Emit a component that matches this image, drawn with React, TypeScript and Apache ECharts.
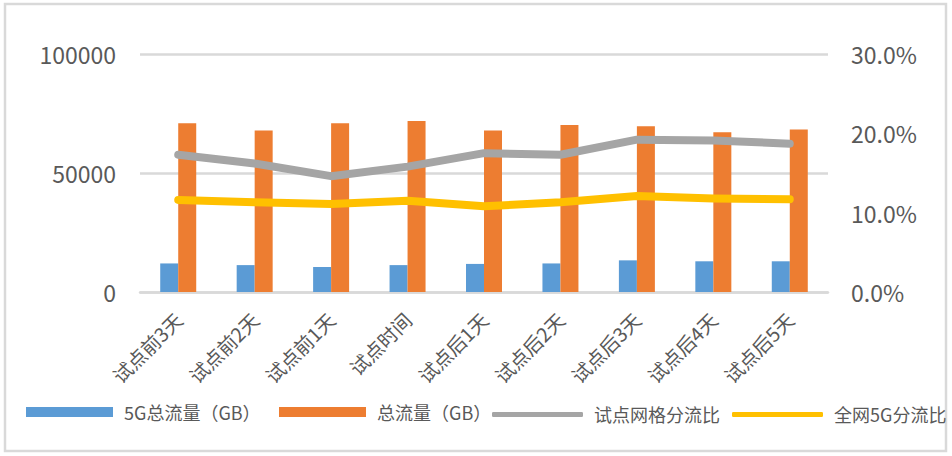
import React, { useEffect, useRef } from "react";
import * as echarts from "echarts";

const categories = ["试点前3天", "试点前2天", "试点前1天", "试点时间", "试点后1天", "试点后2天", "试点后3天", "试点后4天", "试点后5天"];
const traffic5G = [12000, 11300, 10500, 11300, 11800, 12000, 13300, 12900, 12900];
const trafficTotal = [70900, 67900, 70900, 71800, 67900, 70200, 69600, 67100, 68300];
const pilotRatio = [0.173, 0.162, 0.146, 0.158, 0.175, 0.173, 0.192, 0.191, 0.187];
const networkRatio = [0.116, 0.113, 0.111, 0.115, 0.108, 0.113, 0.121, 0.118, 0.117];
const leftTicks = { min: 0, max: 100000, interval: 50000 };
const rightTicks = { min: 0, max: 0.3, interval: 0.1 };

const names = ["5G总流量（GB）", "总流量（GB）", "试点网格分流比", "全网5G分流比"];
const colors = ["#5b9bd5", "#ed7d31", "#a5a5a5", "#ffc000"];
const FONT = "'Noto Sans CJK SC', 'Open Sans', sans-serif";

export default function App() {
  const ref = useRef<HTMLDivElement>(null);
  useEffect(() => {
    if (!ref.current) return;
    const chart = echarts.init(ref.current, null, { renderer: "svg" });
    const legendLefts = [26, 279, 492, 732];
    const legends = names.map((n, i) => ({
      data: [{ name: n, icon: i < 2 ? "rect" : "roundRect" }],
      left: legendLefts[i],
      top: i < 2 ? 403 : 405.5,
      itemWidth: i < 2 ? 87 : 91,
      itemHeight: i < 2 ? 10 : 5,
      padding: 0,
      selectedMode: false,
      textStyle: { fontSize: 18, color: "#595959", fontFamily: FONT, padding: [0, 0, 0, 6] },
    }));
    chart.setOption({
      animation: false,
      backgroundColor: "#ffffff",
      textStyle: { fontFamily: FONT },
      graphic: [
        {
          type: "rect",
          shape: { x: 5, y: 4, width: 941, height: 447 },
          style: { fill: "none", stroke: "#d9d9d9", lineWidth: 2.5 },
          silent: true,
        },
      ],
      legend: legends,
      grid: { left: 140, right: 124, top: 54, bottom: 164 },
      xAxis: {
        type: "category",
        data: categories,
        axisTick: { show: false },
        axisLine: { lineStyle: { color: "#d9d9d9", width: 2.5 } },
        axisLabel: { rotate: 45, fontSize: 19.5, color: "#595959", margin: 24, fontFamily: FONT },
      },
      yAxis: [
        {
          type: "value",
          min: leftTicks.min,
          max: leftTicks.max,
          interval: leftTicks.interval,
          axisLine: { show: false },
          axisTick: { show: false },
          splitLine: { lineStyle: { color: "#d9d9d9", width: 2.5 } },
          axisLabel: {
            fontSize: 23,
            color: "#595959",
            margin: 24,
            fontFamily: FONT,
            formatter: (v: number) => String(v),
          },
        },
        {
          type: "value",
          min: rightTicks.min,
          max: rightTicks.max,
          interval: rightTicks.interval,
          axisLine: { show: false },
          axisTick: { show: false },
          splitLine: { show: false },
          axisLabel: {
            fontSize: 23,
            color: "#595959",
            margin: 23,
            fontFamily: FONT,
            formatter: (v: number) => (v * 100).toFixed(1) + "%",
          },
        },
      ],
      series: [
        {
          name: names[0],
          type: "bar",
          data: traffic5G,
          barWidth: 18,
          barGap: "0%",
          itemStyle: { color: colors[0] },
        },
        {
          name: names[1],
          type: "bar",
          data: trafficTotal,
          barWidth: 18,
          barGap: "0%",
          itemStyle: { color: colors[1] },
        },
        {
          name: names[2],
          type: "line",
          yAxisIndex: 1,
          data: pilotRatio,
          symbol: "none",
          lineStyle: { color: colors[2], width: 8, cap: "round", join: "round" },
          itemStyle: { color: colors[2] },
        },
        {
          name: names[3],
          type: "line",
          yAxisIndex: 1,
          data: networkRatio,
          symbol: "none",
          lineStyle: { color: colors[3], width: 8, cap: "round", join: "round" },
          itemStyle: { color: colors[3] },
        },
      ],
    });
    return () => chart.dispose();
  }, []);
  return (
    <div
      ref={ref}
      style={{ position: "fixed", left: 0, top: 0, width: 952, height: 456 }}
    />
  );
}
